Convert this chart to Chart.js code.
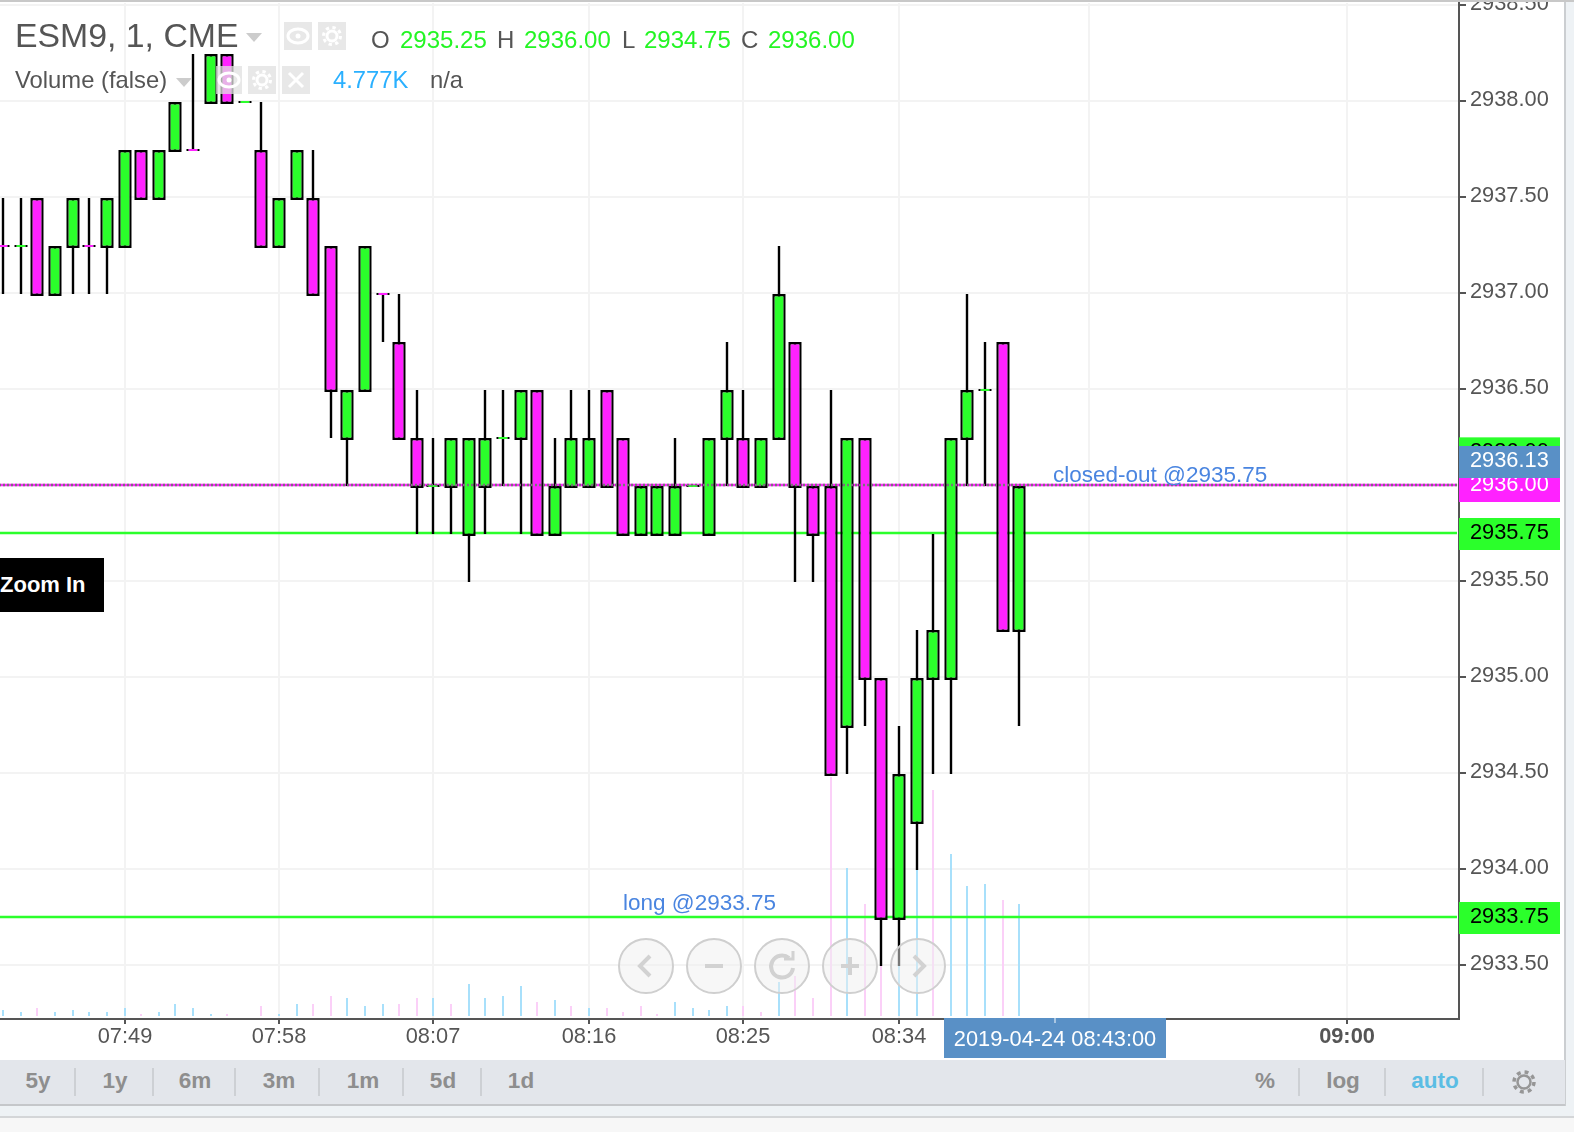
<!DOCTYPE html>
<html>
<head>
<meta charset="utf-8">
<title>ESM9</title>
<script src="https://cdn.jsdelivr.net/npm/chart.js@4/dist/chart.umd.min.js"></script>
<style>
html,body{margin:0;padding:0;background:#eef2f5;width:1574px;height:1132px;overflow:hidden;font-family:"Liberation Sans",sans-serif;}
#panel{position:absolute;left:0;top:0;width:1564px;height:1060px;background:#fff;}
#c{position:absolute;left:0;top:0;}
#topline{position:absolute;left:0;top:0;width:1574px;height:2px;background:#c8c8c8;}
#rightline{position:absolute;left:1564px;top:2px;width:2px;height:1104px;background:#cbced1;}
#toolbar{position:absolute;left:0;top:1060px;width:1565px;height:44px;background:#e3e6eb;border-bottom:2px solid #c5c7ca;}
#foot{position:absolute;left:0;top:1116px;width:1574px;height:14px;background:#f7f7f7;border-top:2px solid #d4d6d8;}
.t{position:absolute;white-space:nowrap;line-height:1;color:#555;}
.big{font-size:33.8px;top:18.5px;}
.ohlc{font-size:24px;top:28.4px;}
.vol{font-size:23.8px;top:67.5px;}
.g{color:#24f524;}
.btn{position:absolute;font-weight:bold;font-size:22.5px;line-height:1;top:1070px;color:#8e8e8e;transform:translateX(-50%);}
.sep{position:absolute;top:1068px;width:2px;height:28px;background:#cdd0d4;}
.caret{position:absolute;width:0;height:0;border-left:8px solid transparent;border-right:8px solid transparent;border-top:9px solid #ccc;}
.box{position:absolute;width:28px;height:28px;background:rgba(224,224,224,.75);}
svg{position:absolute;overflow:visible;}
#zoomin{position:absolute;left:0;top:558px;width:104px;height:54px;background:#000;color:#fff;font-weight:bold;font-size:22px;line-height:54px;}
</style>
</head>
<body>
<div id="panel"></div>
<canvas id="c" width="1564" height="1060"></canvas>
<div id="topline"></div>
<div id="rightline"></div>

<span class="t big" style="left:15px">ESM9, 1, CME</span>
<div class="caret" style="left:246px;top:33px"></div>
<div class="box" style="left:284px;top:22px"><svg width="28" height="28" viewBox="0 0 28 28"><ellipse cx="14" cy="14" rx="10" ry="7" fill="none" stroke="#fff" stroke-width="3"/><circle cx="14" cy="14" r="2.5" fill="#fff"/></svg></div>
<div class="box" style="left:318px;top:22px"><svg width="28" height="28" viewBox="0 0 28 28"><circle cx="14" cy="14" r="5" fill="none" stroke="#fff" stroke-width="3"/><circle cx="14" cy="14" r="8.5" fill="none" stroke="#fff" stroke-width="3" stroke-dasharray="3.3 3.4"/></svg></div>
<span class="t ohlc" style="left:371px">O</span><span class="t ohlc g" style="left:400px">2935.25</span>
<span class="t ohlc" style="left:497px">H</span><span class="t ohlc g" style="left:524px">2936.00</span>
<span class="t ohlc" style="left:622px">L</span><span class="t ohlc g" style="left:644px">2934.75</span>
<span class="t ohlc" style="left:741px">C</span><span class="t ohlc g" style="left:768px">2936.00</span>

<span class="t vol" style="left:15px">Volume (false)</span>
<div class="caret" style="left:176px;top:78px"></div>
<div class="box" style="left:216px;top:66px;width:26px"><svg width="26" height="28" viewBox="0 0 26 28"><ellipse cx="13" cy="14" rx="10" ry="7" fill="none" stroke="#fff" stroke-width="3"/><circle cx="13" cy="14" r="2.5" fill="#fff"/></svg></div>
<div class="box" style="left:248px;top:66px"><svg width="28" height="28" viewBox="0 0 28 28"><circle cx="14" cy="14" r="5" fill="none" stroke="#fff" stroke-width="3"/><circle cx="14" cy="14" r="8.5" fill="none" stroke="#fff" stroke-width="3" stroke-dasharray="3.3 3.4"/></svg></div>
<div class="box" style="left:282px;top:66px"><svg width="28" height="28" viewBox="0 0 28 28"><path d="M7 7L21 21M21 7L7 21" stroke="#fff" stroke-width="3"/></svg></div>
<span class="t vol" style="left:333px;color:#2ab0ff">4.777K</span>
<span class="t vol" style="left:430px">n/a</span>

<div id="zoomin">Zoom In</div>

<svg style="left:0;top:0" width="1574" height="1132" fill="none" pointer-events="none">
  <g fill="rgba(240,240,240,.5)" stroke="#cfcfcf" stroke-width="2">
    <circle cx="646" cy="966" r="27"/><circle cx="714" cy="966" r="27"/><circle cx="782" cy="966" r="27"/><circle cx="850" cy="966" r="27"/><circle cx="918" cy="966" r="27"/>
  </g>
  <g stroke="#d2d2d2" stroke-width="4">
    <path d="M650 956L640 966L650 976"/>
    <path d="M705 966H723"/>
    <path d="M789 958A11 11 0 1 0 793 968"/><path d="M784 959H793V951" stroke-width="3"/>
    <path d="M841 966H859M850 957V975"/>
    <path d="M914 956L924 966L914 976"/>
  </g>
</svg>

<div id="toolbar"></div>
<span class="btn" style="left:38px">5y</span><div class="sep" style="left:74px"></div>
<span class="btn" style="left:115px">1y</span><div class="sep" style="left:152px"></div>
<span class="btn" style="left:195px">6m</span><div class="sep" style="left:234px"></div>
<span class="btn" style="left:279px">3m</span><div class="sep" style="left:318px"></div>
<span class="btn" style="left:363px">1m</span><div class="sep" style="left:402px"></div>
<span class="btn" style="left:443px">5d</span><div class="sep" style="left:480px"></div>
<span class="btn" style="left:521px">1d</span>
<span class="btn" style="left:1265px">%</span><div class="sep" style="left:1298px"></div>
<span class="btn" style="left:1343px">log</span><div class="sep" style="left:1384px"></div>
<span class="btn" style="left:1435px;color:#5bbde4">auto</span><div class="sep" style="left:1482px"></div>
<svg style="left:1512px;top:1070px" width="24" height="24" viewBox="0 0 24 24" fill="none"><circle cx="12" cy="12" r="6.5" stroke="#969696" stroke-width="2.5"/><circle cx="12" cy="12" r="10" stroke="#969696" stroke-width="3.5" stroke-dasharray="3.9 4"/></svg>
<div id="foot"></div>

<script>
//candles, one per minute
const times = ["07:42","07:43","07:44","07:45","07:46","07:47","07:48","07:49","07:50","07:51",
  "07:52","07:53","07:54","07:55","07:56","07:57","07:58","07:59","08:00","08:01",
  "08:02","08:03","08:04","08:05","08:06","08:07","08:08","08:09","08:10","08:11",
  "08:12","08:13","08:14","08:15","08:16","08:17","08:18","08:19","08:20","08:21",
  "08:22","08:23","08:24","08:25","08:26","08:27","08:28","08:29","08:30","08:31",
  "08:32","08:33","08:34","08:35","08:36","08:37","08:38","08:39","08:40","08:41"];
const opens = [2937.25,2937.25,2937.5,2937,2937.25,2937.25,2937.25,2937.25,2937.75,2937.5,
  2937.75,2937.75,2938,2938.25,2938,2937.75,2937.25,2937.5,2937.5,2937.25,
  2936.25,2936.5,2937,2936.75,2936.25,2936,2936,2935.75,2936,2936.25,
  2936.25,2936.5,2935.75,2936,2936,2936.5,2936.25,2935.75,2935.75,2935.75,
  2936,2935.75,2936.25,2936.25,2936,2936.25,2936.75,2936,2936,2934.75,
  2936.25,2935,2933.75,2934.25,2935,2935,2936.25,2936.5,2936.75,2935.25];
const highs = [2937.5,2937.5,2937.5,2937.25,2937.5,2937.5,2937.5,2937.75,2937.75,2937.75,
  2938,2938.25,2938.25,2938.25,2938,2938,2937.5,2937.75,2937.75,2937.25,
  2936.5,2937.25,2937,2937,2936.5,2936.25,2936.25,2936.25,2936.5,2936.5,
  2936.5,2936.5,2936.25,2936.5,2936.5,2936.5,2936.25,2936,2936,2936.25,
  2936,2936.25,2936.75,2936.5,2936.25,2937.25,2936.75,2936,2936.5,2936.25,
  2936.25,2935,2934.75,2935.25,2935.75,2936.25,2937,2936.75,2936.75,2936];
const lows = [2937,2937,2937,2937,2937,2937,2937,2937.25,2937.5,2937.5,
  2937.75,2937.75,2938,2938,2938,2937.25,2937.25,2937.5,2937,2936.25,
  2936,2936.5,2936.75,2936.25,2935.75,2935.75,2935.75,2935.5,2935.75,2936,
  2935.75,2935.75,2935.75,2936,2936,2936,2935.75,2935.75,2935.75,2935.75,
  2936,2935.75,2936,2936,2936,2936.25,2935.5,2935.5,2934.5,2934.5,
  2934.75,2933.5,2933.5,2934,2934.5,2934.5,2936,2936,2935.25,2934.75];
const closes = [2937.25,2937.25,2937,2937.25,2937.5,2937.25,2937.5,2937.75,2937.5,2937.75,
  2938,2937.75,2938.25,2938,2938,2937.25,2937.5,2937.75,2937,2936.5,
  2936.5,2937.25,2937,2936.25,2936,2936,2936.25,2936.25,2936.25,2936.25,
  2936.5,2935.75,2936,2936.25,2936.25,2936,2935.75,2936,2936,2936,
  2936,2936.25,2936.5,2936,2936.25,2937,2936,2935.75,2934.5,2936.25,
  2935,2933.75,2934.5,2935,2935.25,2936.25,2936.5,2936.5,2935.25,2936];
const flatDown = ["07:42","07:47","07:53","08:04"];

const volumes = [256,171,341,171,256,171,171,341,85,171,
  512,341,85,85,0,427,85,512,512,853,
  768,427,512,512,768,768,512,1365,768,853,
  1280,597,682,427,341,341,171,427,85,597,
  341,256,427,427,171,1450,1706,768,10193,6312,
  4777,5545,5545,6227,9639,6909,5545,5630,4947,4777];
const volumeSides = ["b","b","m","b","b","b","b","b","m","b",
  "b","b","b","m","b","m","b","b","m","m",
  "b","b","b","m","m","b","m","b","b","b",
  "b","m","b","m","b","m","m","m","m","b",
  "b","b","b","m","m","b","m","m","m","b",
  "m","m","b","b","m","b","b","b","m","b"];

//axes
const priceTicks = [2933.5,2934,2934.5,2935,2935.5,2936,2936.5,2937,2937.5,2938,2938.5];
const timeTicks = ["07:49","07:58","08:07","08:16","08:25","08:34","08:45","09:00"];
const timeLabels = ["07:49","07:58","08:07","08:16","08:25","08:34","","09:00"];

//order lines and their price tags
const entryLines = [2935.75,2933.75];
const lastPrice = 2936;
const tagPrices = [2936.17,2936,2935.75,2933.75,2936.125];
const tagLabels = ["2936.00","2936.00","2935.75","2933.75","2936.13"];
const tagFills = ["#2bff2b","#ff22ff","#2bff2b","#2bff2b","#5990c6"];
const tagInks = ["#000","#fff","#000","#000","#fff"];
const noteTexts = ["closed-out @2935.75","long @2933.75"];
const noteTimes = ["08:43","08:18"];
const notePrices = [2936.016,2933.786];
const crossTime = "08:43";
const crossLabel = "2019-04-24 08:43:00";

const GREEN = "#2bff2b", MAGENTA = "#ff22ff";
const AXIS = "#555", GRID = "#f3f3f3";
const FONT = "'Liberation Sans', sans-serif";

function mins(s){
  const p = s.split(":");
  return p[0]*60 + Number(p[1]);
}
const t0 = mins(times[0]);
//plot runs from y=3 to y=1019, x=0 to x=1459
const pxPerMin = 17.22, pxPerPoint = 192;
const xMin = t0 - 3.5/pxPerMin, xMax = t0 + (1459-3.5)/pxPerMin;
const yMax = 2938 + 98/pxPerPoint, yMin = 2938 - 918/pxPerPoint;
const candleShift = 2/pxPerPoint;
const volPerPx = 4777/112;

const isFlat = i => opens[i] === closes[i];
const isDown = i => isFlat(i) ? flatDown.includes(times[i]) : closes[i] < opens[i];

const bodyData = times.map((t,i)=>({x:mins(t), y:[opens[i],closes[i]]}));
const wickData = times.map((t,i)=>({x:mins(t), y:[lows[i],highs[i]]}));
const volData = times.map((t,i)=>({x:mins(t), y:volumes[i]}));
const hline = v => [{x:xMin-1,y:v},{x:xMax-0.17,y:v}];

function lineSet(v, color, order, dash, width){
  return {type:"line", data:hline(v), borderColor:color, borderWidth:width||2, borderDash:dash||[],
    pointRadius:0, xAxisID:"x", yAxisID:"y", order:order};
}

//bars land on odd pixels, the way the original snaps them
const snapPlugin = {
  id:"snap",
  afterLayout(chart){
    const s = chart.scales.x;
    if(s.snapped) return;
    const orig = s.getPixelForValue.bind(s);
    s.getPixelForValue = (v,i)=>Math.round((orig(v,i)-1)/2)*2+1;
    s.snapped = true;
  },
  //the original strokes its outline on the price, Chart.js insets it
  afterDatasetUpdate(chart,args){
    const label = chart.data.datasets[args.index].label;
    if(label!=="body" && label!=="wick") return;
    args.meta.data.forEach((el,i)=>{
      if(label==="body" && !isFlat(i)){
        if(el.y<el.base){ el.y-=1; el.base+=1; } else { el.y+=1; el.base-=1; }
      }
      if(label==="wick"){ el.y-=1; el.base-=1; }
    });
  }
};

//price tags, notes and the crosshair date
const tagPlugin = {
  id:"tags",
  afterDraw(chart){
    const ctx = chart.ctx, y = chart.scales.y, x = chart.scales.x;
    ctx.save();
    ctx.font = "21.8px "+FONT;
    ctx.textBaseline = "alphabetic";
    tagPrices.forEach((p,i)=>{
      const py = y.getPixelForValue(p);
      ctx.fillStyle = tagFills[i];
      ctx.fillRect(1459,py-15,101,32);
      ctx.fillStyle = tagInks[i];
      ctx.textAlign = "left";
      ctx.fillText(tagLabels[i],1470,py+6);
    });
    ctx.font = "22.5px "+FONT;
    ctx.fillStyle = "#4a85e0";
    noteTexts.forEach((s,i)=>{
      ctx.fillText(s,x.getPixelForValue(mins(noteTimes[i])),y.getPixelForValue(notePrices[i]));
    });
    ctx.font = "21.8px "+FONT;
    const cx = x.getPixelForValue(mins(crossTime));
    ctx.fillStyle = "#5990c6";
    ctx.fillRect(cx-109,1018,222,40);
    ctx.fillStyle = "#a9c6e2";
    ctx.fillRect(cx+1,1018,2,5);
    ctx.fillStyle = "#fff";
    ctx.textAlign = "center";
    ctx.fillText(crossLabel,cx+2,1046);
    ctx.restore();
  }
};

new Chart(document.getElementById("c"),{
  type:"bar",
  data:{
    datasets:[
      lineSet(lastPrice,"#777",1,[2,2],2.4),
      {label:"body", data:bodyData, xAxisID:"x", yAxisID:"yc", order:2, grouped:false,
        barThickness:13.4, minBarLength:2, inflateAmount:0, borderSkipped:false, borderColor:"#000",
        borderWidth:c=>isFlat(c.dataIndex) ? {left:2.4,right:2.4,top:0,bottom:0} : 2.4,
        backgroundColor:c=>isDown(c.dataIndex) ? MAGENTA : GREEN},
      {label:"wick", data:wickData, xAxisID:"x", yAxisID:"yc", order:3, grouped:false,
        barThickness:2.4, inflateAmount:0, borderWidth:0, backgroundColor:"#000"},
      lineSet(lastPrice,MAGENTA,4,[],2.4),
      lineSet(entryLines[0],GREEN,5,[],2.4),
      lineSet(entryLines[1],GREEN,5,[],2.4),
      {label:"volume", data:volData, xAxisID:"x", yAxisID:"yv", order:6, grouped:false,
        barThickness:2, inflateAmount:0, borderWidth:0,
        backgroundColor:c=>volumeSides[c.dataIndex]==="m" ? "#fbd0f8" : "#a8e0fb"}
    ]
  },
  options:{
    responsive:false,
    animation:false,
    events:[],
    layout:{padding:{top:3,left:0,right:0,bottom:0}},
    plugins:{legend:{display:false},tooltip:{enabled:false}},
    scales:{
      x:{
        type:"linear", position:"bottom", min:xMin, max:xMax, offset:false,
        afterBuildTicks(s){ s.ticks = timeTicks.map(t=>({value:mins(t)})); },
        afterFit(s){ s.height = 41; s.paddingLeft = 0; s.paddingRight = 0; },
        grid:{offset:false, color:GRID, lineWidth:2, tickColor:AXIS, tickLength:5, tickWidth:2},
        border:{color:AXIS, width:2},
        ticks:{
          autoSkip:false, maxRotation:0, padding:0, color:AXIS,
          font:c=>({family:FONT, size:21.8, weight:timeLabels[c.index]==="09:00" ? "bold" : "normal"}),
          callback:(v,i)=>timeLabels[i]
        }
      },
      y:{
        type:"linear", position:"right", min:yMin, max:yMax,
        afterBuildTicks(s){ s.ticks = priceTicks.map(v=>({value:v})); },
        afterFit(s){ s.width = 105; s.paddingTop = 0; s.paddingBottom = 0; },
        grid:{color:GRID, lineWidth:2, tickColor:AXIS, tickLength:7, tickWidth:2},
        border:{color:AXIS, width:2},
        //empty second line with a 2px leading lifts the label 1px off its tick
        ticks:{autoSkip:false, padding:4, color:AXIS, font:{family:FONT, size:21.8, lineHeight:"2px"},
          callback:v=>[v.toFixed(2),""]}
      },
      yc:{type:"linear", display:false, min:yMin+candleShift, max:yMax+candleShift},
      yv:{type:"linear", display:false, min:-3*volPerPx, max:1013*volPerPx}
    }
  },
  plugins:[snapPlugin,tagPlugin]
});
</script>
</body>
</html>
